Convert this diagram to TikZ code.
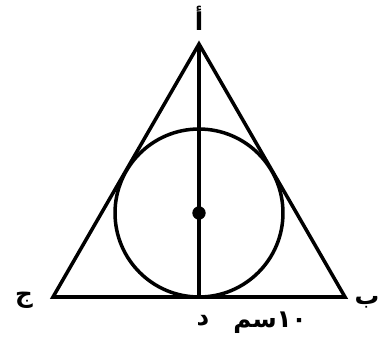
\documentclass[tikz,border=0pt]{standalone}
\usepackage{fontspec}
\newfontfamily\arabicfont[Script=Arabic]{DejaVu Sans}
\TeXXeTstate=1
\usetikzlibrary{positioning}
\pgfkeys{tikz/figline/.style={line width=2pt,line join=miter}}
\pgfkeys{tikz/arlabel/.style={inner sep=0pt,font=\arabicfont\bfseries\fontsize{14}{16}\selectfont}}

\begin{document}
\begin{tikzpicture}[x=0.02cm,y=-0.02cm]
\useasboundingbox (0,0) rectangle (382,345);

% vertices of the triangle
\coordinate (A) at (199,44);
\coordinate (B) at (345,297);
\coordinate (C) at (53,297);
\coordinate (D) at (199,297);
\coordinate (O) at (199,213);

\draw[figline] (A) -- (B) -- (C) -- cycle;
\draw[figline] (O) circle (1.68cm);
\draw[figline] (A) -- (D);
\fill (O) circle (3.8pt);

% labels
\node[arlabel] (la) at (199,18) {\beginR أ\endR};
\node[arlabel] (lb) at (367,302) {\beginR ب\endR};
\node[arlabel] (lc) at (24,300) {\beginR ج\endR};
\node[arlabel] (ld) at (203,321) {\beginR د\endR};
\node[arlabel] (lside) at (270,323) {\beginR ١٠سم\endR};

\end{tikzpicture}
\end{document}
